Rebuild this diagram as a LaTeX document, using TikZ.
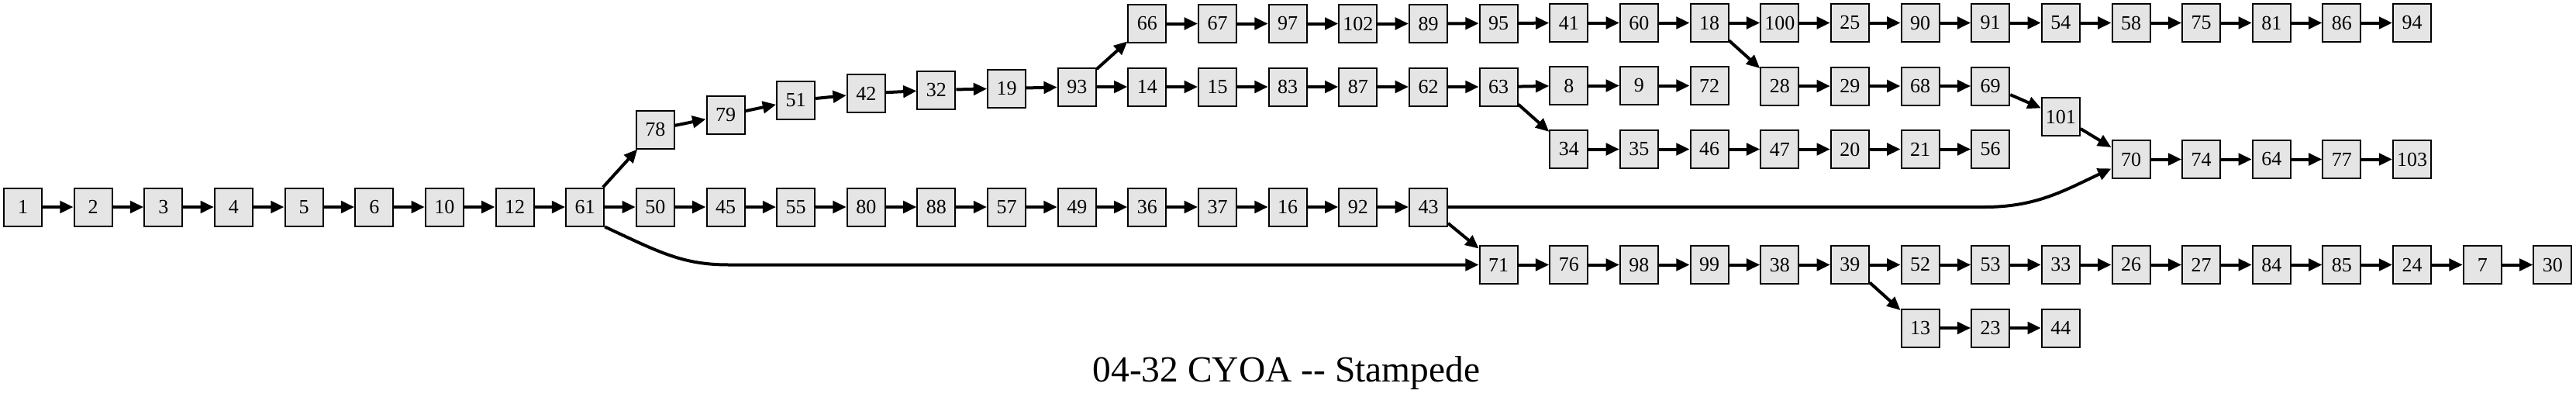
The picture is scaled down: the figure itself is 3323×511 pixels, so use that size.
\documentclass[tikz,border=0pt]{standalone}
\usepackage{fontspec}
\setmainfont{Liberation Serif}
\usetikzlibrary{arrows.meta}
\tikzset{
  box/.style={draw=black, line width=1.5pt, fill=gray!20, minimum width=36.75pt, minimum height=36.75pt, inner sep=0pt, font=\fontsize{19.5pt}{20pt}\selectfont},
  edge/.style={line width=3pt, -{Triangle[length=13pt,width=11.5pt]}},
  titlestyle/.style={font=\fontsize{35.6pt}{40pt}\selectfont, anchor=base, inner sep=0pt}
}
\newcommand{\nd}[3]{\node[box] (n#1) at ({29.5+90.65*(#2)},#3) {#1};}
\begin{document}
\begin{tikzpicture}[x=0.75pt,y=-0.75pt]
\useasboundingbox (0,0) rectangle (3323,511);
% main row
\nd{1}{0}{267}\nd{2}{1}{267}\nd{3}{2}{267}\nd{4}{3}{267}\nd{5}{4}{267}\nd{6}{5}{267}
\nd{10}{6}{267}\nd{12}{7}{267}\nd{61}{8}{267}\nd{50}{9}{267}\nd{45}{10}{267}\nd{55}{11}{267}
\nd{80}{12}{267}\nd{88}{13}{267}\nd{57}{14}{267}\nd{49}{15}{267}\nd{36}{16}{267}\nd{37}{17}{267}
\nd{16}{18}{267}\nd{92}{19}{267}\nd{43}{20}{267}
% rising branch
\nd{78}{9}{167}\nd{79}{10}{148.5}\nd{51}{11}{129.5}\nd{42}{12}{120.5}\nd{32}{13}{116}\nd{19}{14}{114}\nd{93}{15}{112}
% top row
\nd{66}{16}{30.5}\nd{67}{17}{30.5}\nd{97}{18}{30.5}\nd{102}{19}{30.5}\nd{89}{20}{30.5}\nd{95}{21}{30}
\nd{41}{22}{29.5}\nd{60}{23}{29.5}\nd{18}{24}{29.5}\nd{100}{25}{29.5}\nd{25}{26}{29.5}\nd{90}{27}{29.5}
\nd{91}{28}{29.5}\nd{54}{29}{29.5}\nd{58}{30}{29.5}\nd{75}{31}{29.5}\nd{81}{32}{29.5}\nd{86}{33}{29.5}\nd{94}{34}{29.5}
% second row
\nd{14}{16}{112}\nd{15}{17}{112}\nd{83}{18}{112}\nd{87}{19}{112}\nd{62}{20}{112}\nd{63}{21}{112}
\nd{8}{22}{110.5}\nd{9}{23}{110.5}\nd{72}{24}{110.5}
\nd{28}{25}{111}\nd{29}{26}{111}\nd{68}{27}{111}\nd{69}{28}{111}
\nd{101}{29}{150.5}
% third row
\nd{34}{22}{192.5}\nd{35}{23}{192.5}\nd{46}{24}{192.5}\nd{47}{25}{192.5}\nd{20}{26}{192.5}\nd{21}{27}{192.5}\nd{56}{28}{192.5}
\nd{70}{30}{205.5}\nd{74}{31}{205.5}\nd{64}{32}{205.5}\nd{77}{33}{205.5}\nd{103}{34}{205.5}
% lower row
\nd{71}{21}{341.5}\nd{76}{22}{341.5}\nd{98}{23}{341.5}\nd{99}{24}{341.5}\nd{38}{25}{341.5}\nd{39}{26}{341.5}
\nd{52}{27}{341.5}\nd{53}{28}{341.5}\nd{33}{29}{341.5}\nd{26}{30}{341.5}\nd{27}{31}{341.5}\nd{84}{32}{341.5}
\nd{85}{33}{341.5}\nd{24}{34}{341.5}\nd{7}{35}{341.5}\nd{30}{36}{341.5}
\nd{13}{27}{423}\nd{23}{28}{423}\nd{44}{29}{423}
% straight edges
\foreach \a/\b in {1/2,2/3,3/4,4/5,5/6,6/10,10/12,12/61,61/78,61/50,
  78/79,79/51,51/42,42/32,32/19,19/93,93/66,93/14,
  66/67,67/97,97/102,102/89,89/95,95/41,41/60,60/18,
  18/100,100/25,25/90,90/91,91/54,54/58,58/75,75/81,81/86,86/94,18/28,
  14/15,15/83,83/87,87/62,62/63,63/8,8/9,9/72,63/34,
  34/35,35/46,46/47,47/20,20/21,21/56,
  28/29,29/68,68/69,69/101,101/70,70/74,74/64,64/77,77/103,
  50/45,45/55,55/80,80/88,88/57,57/49,49/36,36/37,37/16,16/92,92/43,43/71,
  71/76,76/98,98/99,99/38,38/39,39/52,52/53,53/33,33/26,26/27,27/84,84/85,85/24,24/7,7/30,
  39/13,13/23,23/44}
  \draw[edge] (n\a) -- (n\b);
% curved edges
\coordinate (c61) at (940,341.5);
\draw[edge] (n61.south east) .. controls (850,325) and (880,341.5) .. (c61) -- (n71);
\coordinate (c43) at (2560,267);
\draw[edge] (n43) -- (c43) to[out=0,in=205] (n70);
% title
\node[titlestyle] (title) at (1659.5,492) {04-32 CYOA -{}- Stampede};
\end{tikzpicture}
\end{document}
